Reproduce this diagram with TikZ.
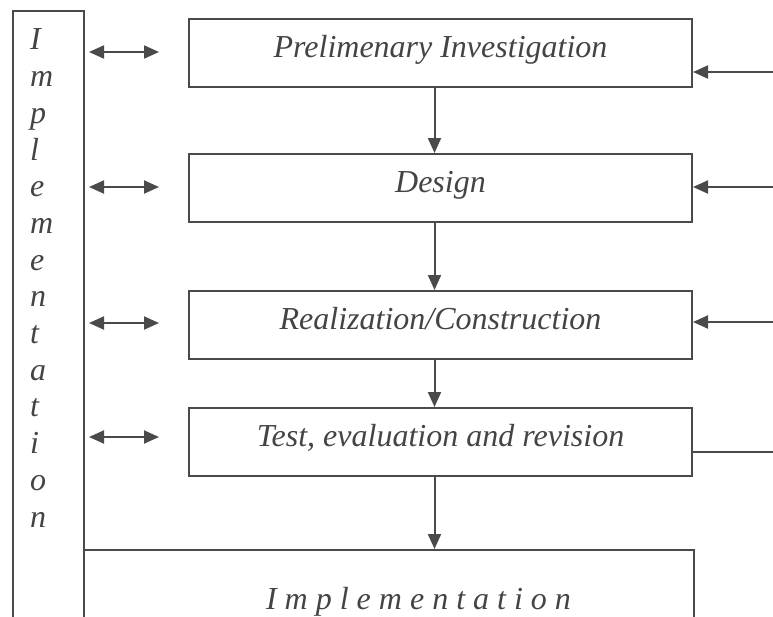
\documentclass[tikz,border=0pt]{standalone}
\usepackage{fontspec}
\setmainfont{Liberation Serif}
\usetikzlibrary{arrows.meta}
\definecolor{linegray}{HTML}{4A4A4A}
\definecolor{textgray}{HTML}{444444}
\begin{document}
\begin{tikzpicture}[x=1pt, y=-1pt, line width=2pt, color=linegray,
    every node/.style={font=\fontsize{32}{36.7}\selectfont\itshape, text=textgray},
    stagebox/.style={draw, minimum width=503pt, minimum height=68pt, text height=22pt, text depth=14pt, inner sep=0pt},
    flow/.style={-{Triangle[length=15pt,width=13pt]}},
    both/.style={{Triangle[length=15pt,width=13pt]}-{Triangle[length=15pt,width=13pt]}}]
    \useasboundingbox (0,0) rectangle (773,616);
    \clip (0,0) rectangle (773,616);

    % Implementation column on the left
    \node[draw, minimum width=71pt, minimum height=640pt, anchor=north west, inner sep=0pt] (column) at (12,10) {};
    \node[align=left, anchor=north west, inner sep=0pt] (letters) at (29,28) {I\\m\\p\\l\\e\\m\\e\\n\\t\\a\\t\\i\\o\\n};

    % Stages
    \node[stagebox] (prelim) at (440.5,53) {Prelimenary Investigation};
    \node[stagebox] (design) at (440.5,188) {Design};
    \node[stagebox] (realize) at (440.5,325) {Realization/Construction};
    \node[stagebox] (test) at (440.5,442) {Test, evaluation and revision};

    % Implementation box at the bottom
    \node[draw, minimum width=610pt, minimum height=130pt, anchor=north west, inner sep=0pt] (implbox) at (83,549) {};
    \node[anchor=base, inner sep=0pt] (impltext) at (418.5,609) {I m p l e m e n t a t i o n};

    % Flow downwards
    \draw[flow] ([xshift=-6pt]prelim.south) -- ([xshift=-6pt]design.north);
    \draw[flow] ([xshift=-6pt]design.south) -- ([xshift=-6pt]realize.north);
    \draw[flow] ([xshift=-6pt]realize.south) -- ([xshift=-6pt]test.north);
    \draw[flow] ([xshift=-6pt]test.south) -- ([xshift=-6pt]test.south |- implbox.north);

    % Links to the implementation column
    \foreach \stage/\dy in {prelim/1, design/1, realize/2, test/5}
      \draw[both] ([xshift=4pt,yshift=\dy pt]column.east |- \stage.west) -- ([xshift=-29pt,yshift=\dy pt]\stage.west);

    % Feedback lines on the right
    \coordinate (in1) at (773,72);
    \coordinate (in2) at (773,187);
    \coordinate (in3) at (773,322);
    \coordinate (out4) at (773,452);
    \draw[flow] (in1) -- (in1 -| prelim.east);
    \draw[flow] (in2) -- (in2 -| design.east);
    \draw[flow] (in3) -- (in3 -| realize.east);
    \draw (out4 -| test.east) -- (out4);
\end{tikzpicture}
\end{document}
